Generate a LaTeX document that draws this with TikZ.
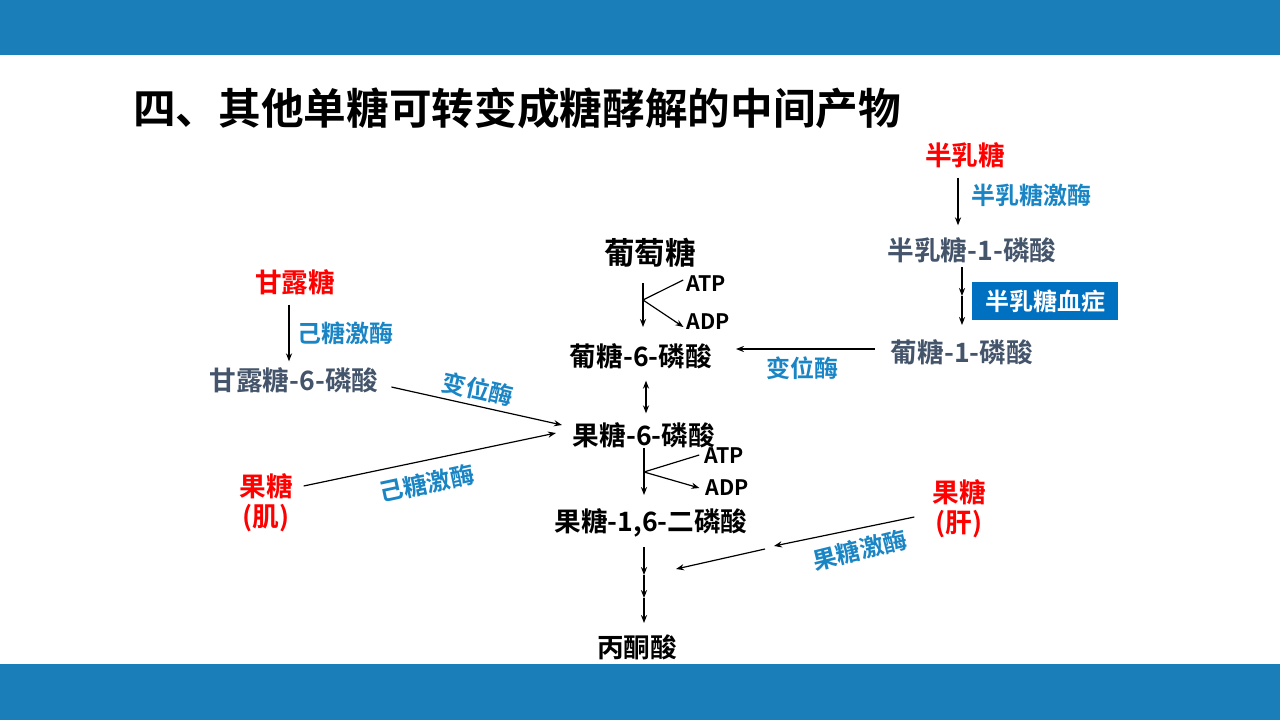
\documentclass[tikz,border=0pt]{standalone}
\usepackage{fontspec}
\setmainfont{Noto Sans CJK SC}[BoldFont={Noto Sans CJK SC Bold}]
\usetikzlibrary{arrows.meta}
\definecolor{barblue}{HTML}{1A7EB8}
\definecolor{lblblue}{HTML}{1A85C4}
\definecolor{slategray}{HTML}{44546A}
\definecolor{boxblue}{HTML}{0070C0}
\definecolor{pure red}{HTML}{FF0000}
\begin{document}
\begin{tikzpicture}[x=0.75pt,y=-0.75pt,
  every node/.style={inner sep=0pt,outer sep=0pt},
  titletext/.style={font=\bfseries\fontsize{32}{36}\selectfont,anchor=west},
  bigtext/.style={font=\bfseries\fontsize{23}{26}\selectfont},
  maintext/.style={font=\bfseries\fontsize{20}{22.5}\selectfont},
  slatetext/.style={maintext,text=slategray},
  redtext/.style={maintext,text=pure red,align=center},
  enzyme/.style={font=\bfseries\fontsize{18}{20}\selectfont,text=lblblue},
  smalltext/.style={font=\bfseries\fontsize{16}{18}\selectfont},
  diseasebox/.style={fill=boxblue,text=white,font=\bfseries\fontsize{18}{20}\selectfont,
    minimum width=109.5pt,minimum height=28.5pt},
  arr/.style={-{Stealth[length=6pt,width=4.6pt]},line width=0.9pt},
  darr/.style={{Stealth[length=6pt,width=4.6pt]}-{Stealth[length=6pt,width=4.6pt]},line width=0.9pt},
  ln/.style={line width=0.9pt}
]
\useasboundingbox (0,0) rectangle (1280,720);
\fill[barblue] (0,0) rectangle (1280,55);
\fill[barblue] (0,664) rectangle (1280,720);

\node[titletext] (title) at (133,108) {四、其他单糖可转变成糖酵解的中间产物};

% main glycolysis column
\node[bigtext] (glc) at (650,253) {葡萄糖};
\node[smalltext] (atp1) at (706,284) {ATP};
\node[smalltext] (adp1) at (708,322) {ADP};
\node[maintext] (g6p) at (641,356) {葡糖-6-磷酸};
\node[maintext] (f6p) at (644,435) {果糖-6-磷酸};
\node[smalltext] (atp2) at (724,456) {ATP};
\node[smalltext] (adp2) at (727,488) {ADP};
\node[maintext] (fbp) at (651,523) {果糖-1,6-二磷酸};
\node[maintext] (pyr) at (637,647) {丙酮酸};

% galactose branch
\node[redtext] (gal) at (965,155) {半乳糖};
\node[enzyme] (galk) at (1031,195) {半乳糖激酶};
\node[slatetext] (gal1p) at (972,250) {半乳糖-1-磷酸};
\node[diseasebox] (galdis) at (1045,301) {半乳糖血症};
\node[slatetext] (g1p) at (962,352) {葡糖-1-磷酸};
\node[enzyme] (mut1) at (802,368) {变位酶};

% mannose branch
\node[redtext] (man) at (295,282) {甘露糖};
\node[enzyme] (hk1) at (345,333) {己糖激酶};
\node[slatetext] (m6p) at (294,380) {甘露糖-6-磷酸};
\node[enzyme,rotate=-12.8] (mut2) at (478,389) {变位酶};

% fructose (muscle)
\node[redtext] (frm) at (266,503) {果糖\\(肌)};
\node[enzyme,rotate=12] (hk2) at (427,483) {己糖激酶};

% fructose (liver)
\node[redtext] (frl) at (959,509) {果糖\\(肝)};
\node[enzyme,rotate=14] (frk) at (860,550) {果糖激酶};

% coordinates for connector ends
\coordinate (c1top) at (643,283);
\coordinate (c1bot) at (643,327);
\coordinate (c1br) at (643,300);
\coordinate (c2top) at (644,448);
\coordinate (c2bot) at (644,495);
\coordinate (c2br) at (644,472);
\coordinate (s1) at (644,547);
\coordinate (s2) at (644,575);
\coordinate (s3) at (644,598);
\coordinate (s4) at (644,623);
\coordinate (liv1) at (774,546);
\coordinate (liv2) at (765,549);
\coordinate (liv3) at (676,569);
\coordinate (g1) at (962,267);
\coordinate (g2) at (962,296);
\coordinate (g3) at (962,325);
\coordinate (mutstart) at (875,349);
\coordinate (mutend) at (736,349);

% glucose -> G6P
\draw[arr] (c1top) -- (c1bot);
\draw[ln] (c1br) -- ([shift={(-3,-4)}]atp1.west);
\draw[arr] (c1br) -- ([shift={(-3,5)}]adp1.west);
\draw[darr] ([shift={(5,12)}]g6p.south) -- ([shift={(2,-9)}]f6p.north);

% F6P -> F1,6BP
\draw[arr] (c2top) -- (c2bot);
\draw[ln] (c2br) -- ([shift={(-5,-1)}]atp2.west);
\draw[arr] (c2br) -- ([shift={(-6,0)}]adp2.west);

% F1,6BP -> pyruvate
\draw[arr] (s1) -- (s2);
\draw[arr] (s2) -- (s3);
\draw[arr] (s3) -- (s4);

% galactose
\draw[arr] ([shift={(-7,10)}]gal.south) -- ([shift={(-14,-12)}]gal1p.north);
\draw[arr] (g1) -- (g2);
\draw[arr] (g2) -- (g3);
\draw[arr] (mutstart) -- (mutend);

% mannose
\draw[arr] ([shift={(-6,10)}]man.south) -- ([shift={(-5,-6)}]m6p.north);
\draw[arr] ([shift={(13,7)}]m6p.east) -- ([shift={(-11,-10)}]f6p.west);

% fructose muscle
\draw[arr] ([shift={(11,-17)}]frm.east) -- ([shift={(-17,-2)}]f6p.west);

% fructose liver
\draw[arr] ([shift={(-18,8)}]frl.west) -- (liv1);
\draw[arr] (liv2) -- (liv3);
\end{tikzpicture}
\end{document}
